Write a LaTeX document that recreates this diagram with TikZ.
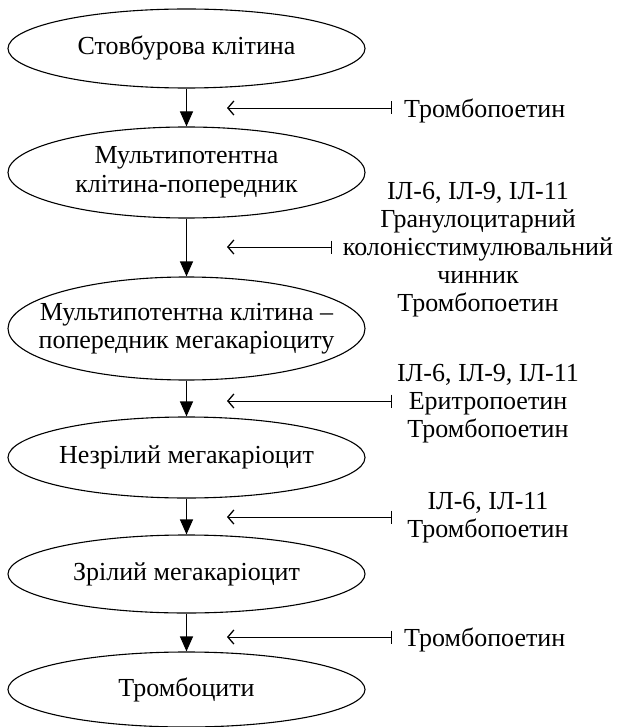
\documentclass[tikz,border=0pt]{standalone}
\usepackage{fontspec}
\setmainfont{Liberation Serif}
\usetikzlibrary{shapes.geometric,arrows.meta}
\tikzset{
  cell/.style={draw, ellipse, line width=1.1pt, minimum width=357pt, inner xsep=-70pt, inner ysep=-10pt, align=center, font=\fontsize{26}{28.5}\selectfont},
  mainarrow/.style={line width=1.1pt, -{Triangle[length=15pt,width=13pt]}},
  sidearrow/.style={line width=0.9pt, {Straight Barb[length=6pt,width=14pt,line width=1.3pt]}-{Bar[width=13pt,line width=1.3pt]}},
  factor/.style={align=center, inner sep=0pt, yshift=-3pt, font=\fontsize{26}{28}\selectfont}
}
\begin{document}
\begin{tikzpicture}[x=1pt,y=-1pt]
\useasboundingbox (0,0) rectangle (619,727);
% cells
\node[cell, minimum height=79pt] (e1) at (186.5,48.5) {Стовбурова клітина};
\node[cell, minimum height=91pt] (e2) at (186.5,172.5) {Мультипотентна\\клітина-попередник};
\node[cell, minimum height=103pt] (e3) at (186.5,328.5) {Мультипотентна клітина –\\попередник мегакаріоциту};
\node[cell, minimum height=81pt] (e4) at (186.5,457.5) {Незрілий мегакаріоцит};
\node[cell, minimum height=78pt] (e5) at (186.5,574) {Зрілий мегакаріоцит};
\node[cell, minimum height=75pt] (e6) at (186.5,689.5) {Тромбоцити};
% main arrows
\draw[mainarrow] (e1) -- (e2);
\draw[mainarrow] (e2) -- (e3);
\draw[mainarrow] (e3) -- (e4);
\draw[mainarrow] (e4) -- (e5);
\draw[mainarrow] (e5) -- (e6);
% side arrow coordinates
\coordinate (t1) at (227,108); \coordinate (b1) at (392,108);
\coordinate (t2) at (227,247); \coordinate (b2) at (332,247);
\coordinate (t3) at (227,401); \coordinate (b3) at (392,401);
\coordinate (t4) at (227,517); \coordinate (b4) at (392,517);
\coordinate (t5) at (227,637); \coordinate (b5) at (392,637);
\draw[sidearrow] (t1) -- (b1);
\draw[sidearrow] (t2) -- (b2);
\draw[sidearrow] (t3) -- (b3);
\draw[sidearrow] (t4) -- (b4);
\draw[sidearrow] (t5) -- (b5);
% factors
\node[factor, anchor=west] (f1) at (404,108) {Тромбопоетин};
\node[factor] (f2) at (478,247) {ІЛ-6, ІЛ-9, ІЛ-11\\Гранулоцитарний\\колонієстимулювальний\\чинник\\Тромбопоетин};
\node[factor] (f3) at (488,401) {ІЛ-6, ІЛ-9, ІЛ-11\\Еритропоетин\\Тромбопоетин};
\node[factor] (f4) at (488,515) {ІЛ-6, ІЛ-11\\Тромбопоетин};
\node[factor, anchor=west] (f5) at (404,637) {Тромбопоетин};
\end{tikzpicture}
\end{document}
